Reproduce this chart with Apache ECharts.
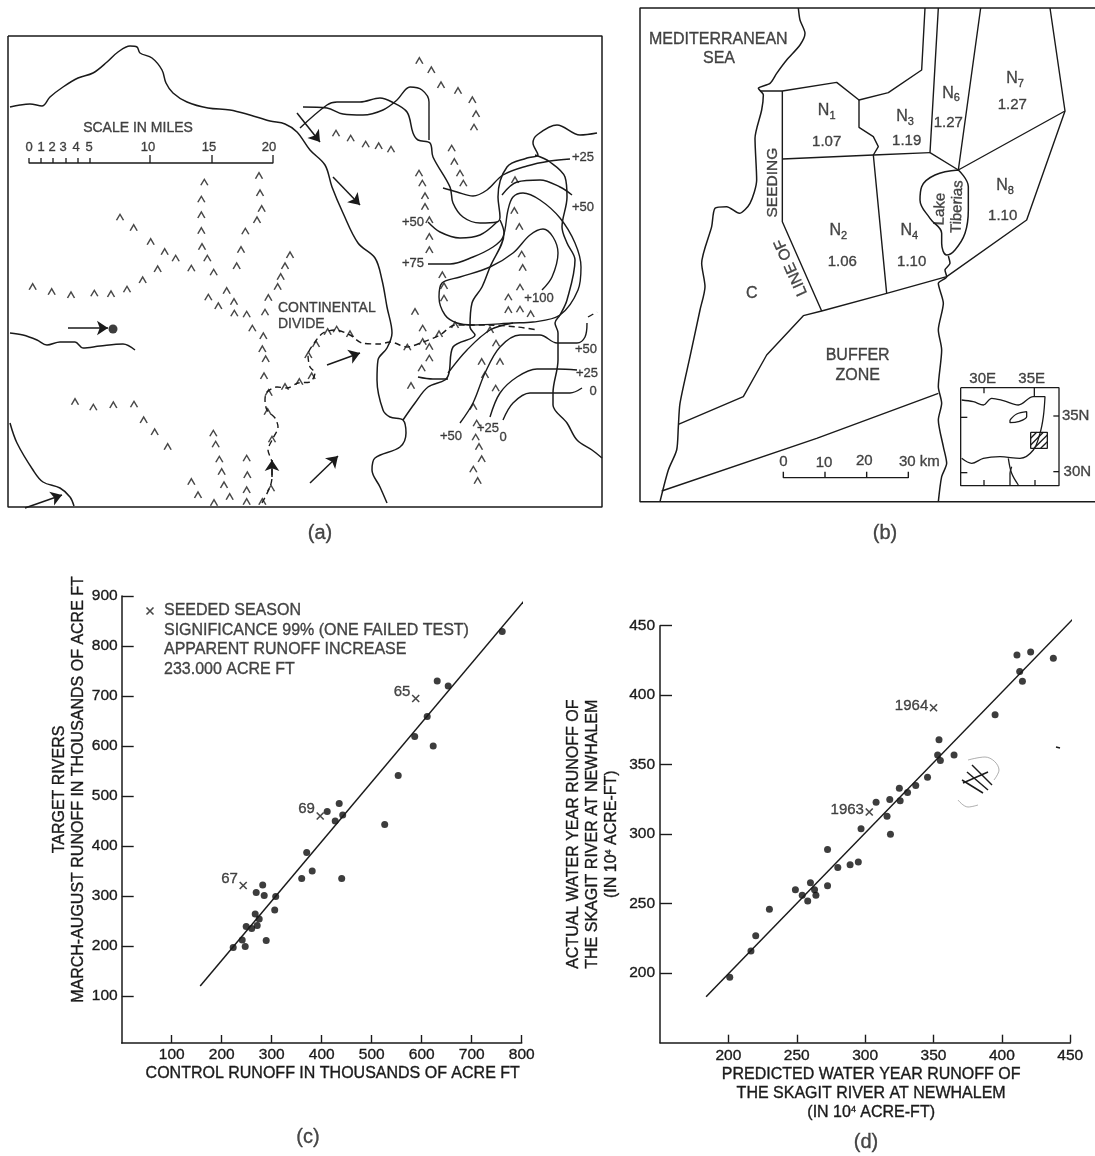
<!DOCTYPE html>
<html><head><meta charset="utf-8">
<style>html,body{margin:0;padding:0;background:#fff}#c{width:1095px;height:1156px}</style>
<script src="https://cdn.jsdelivr.net/npm/echarts@6/dist/echarts.min.js"></script>
</head><body><div id="c"></div>
<script>
// ---------- scatter (c) ----------
const controlRunoff = [223,241,247,249,260,271,275,267,289,269,285,282,308,306,360,370,381,440,427,442,435,411,526,553,586,611,623,631,653,761];
const targetRunoff  = [197,212,199,239,235,241,254,264,211,307,301,322,299,272,335,387,350,335,450,462,485,469,443,541,619,659,600,730,720,829];
const seededC = [[588,695,'65'],[397,460,'69'],[243,321,'67']];
const fitC = [[157,120],[813,900]];
const ticksC = [100,200,300,400,500,600,700,800,900];
// ---------- scatter (d) ----------
const predictedRunoff = [201,216.5,220,230,249,254,258,260,263,264,272.5,272.5,280,289,295,297,308,316,318,318.5,325,325.6,331,337,345.6,353,354,355,365,395,411,413,415,421,437.6,438];
const actualRunoff    = [197,216,227,246,260,256,252,265,260,256,263,289,276,278,280,304,323,313,325,300,333,324,330,335,341,357,368,353,357,386,429,417,410,431,426.5,454];
const seededD = [[350,391,'1964'],[303,316,'1963']];
const fitD = [[183.7,183],[460,463]];
// ---------- map (a): sheet units ----------
const frameA = [[8,36],[602,36],[602,507],[8,507],[8,36]];
const riversA = [
 [[10,107],[20,105],[30,104],[42,106],[50,97],[63,87],[78,78],[93,73],[107,62],[118,52],[130,46],[137,47],[140,53],[152,58],[162,70],[166,83],[173,93],[187,102],[208,108],[230,110],[250,115],[270,121],[285,124],[297,132],[310,150],[325,165],[332,187],[343,213],[358,243],[375,258],[382,280],[387,307],[392,333],[387,348],[378,360],[377,380],[383,410],[390,417],[403,420],[406,433],[400,447],[375,458],[372,470],[380,487],[387,503]],
 [[300,128],[327,105],[337,102],[360,102],[380,98],[392,102],[407,112],[413,133],[418,140],[430,143],[433,157],[450,187],[453,203],[463,217],[480,223],[497,222],[500,217],[498,197],[507,167],[527,158],[538,155],[533,143],[537,135],[557,125],[580,135],[597,133]],
 [[535,155],[550,162],[565,177],[567,197],[562,227],[567,243],[575,260],[567,300],[560,315],[555,323],[558,333],[558,360],[553,393],[553,405],[567,423],[577,440],[592,450],[602,458]],
 [[500,220],[504,233],[490,267],[482,287],[472,303],[470,327],[475,335],[453,347],[449,373],[445,380],[428,387],[415,403],[403,420]],
 [[418,377],[433,379],[448,379]],
 [[10,333],[23,335],[37,340],[47,345],[60,342],[75,342],[83,348],[100,346],[123,344],[135,350]],
 [[10,423],[17,443],[33,470],[43,482],[60,488],[70,497],[74,506]]
];
const contoursA = [
 [[303,107],[327,108],[343,114],[363,115],[383,110],[397,100],[410,87],[422,90],[429,102],[429,140]],
 [[443,188],[457,192],[473,196],[487,190],[503,175],[527,166],[550,161],[570,159]],
 [[502,195],[517,182],[540,180],[560,187],[572,195]],
 [[428,222],[440,232],[460,238],[480,235],[497,222]],
 [[428,264],[450,264],[473,257],[493,247],[503,237],[508,210],[513,197],[523,193],[540,200],[560,218],[575,243],[581,267],[578,290],[560,315],[533,322],[513,323],[473,325],[457,323],[445,315],[439,297],[442,283],[460,277],[490,267],[513,253],[530,235],[543,229],[553,237],[558,253],[552,277],[542,290]],
 [[448,373],[467,350],[490,330],[513,323]],
 [[460,423],[473,403],[485,373],[500,347],[520,335],[540,335],[557,343],[577,343],[585,337],[587,323]],
 [[490,417],[500,393],[517,377],[537,369],[557,369],[577,370]],
 [[503,420],[513,403],[530,393],[553,393],[570,393],[582,388]]
];
const divideA = [
 [[262,503],[270,487],[272,477],[272,463],[268,450],[272,440],[278,427],[275,418],[267,410],[265,400],[267,392],[277,387],[287,388],[298,383],[310,382],[315,373],[310,367],[308,355],[315,342],[323,333],[335,330],[350,335],[362,343],[380,344],[390,342],[407,347],[423,342],[440,335],[455,325],[487,325],[517,327],[538,330]],
 [[588,317],[597,312]]
];
const arrowsA = [[[297,113],[320,142]],[[333,177],[360,205]],[[68,328],[108,328]],[[25,508],[62,495]],[[327,365],[360,353]],[[310,483],[338,456]],[[272,477],[272,460]]];
const gaugeA = [[113,329]];
const scaleBarA = [[29,158],[29,163],[41,163],[41,158],[41,163],[53,163],[53,158],[53,163],[66,163],[66,158],[66,163],[78,163],[78,158],[78,163],[90,163],[90,158],[90,163],[150,163],[150,155],[150,163],[212,163],[212,155],[212,163],[273,163],[273,155]];
const scaleLabelsA = [[29,147,'0'],[41,147,'1'],[52,147,'2'],[63,147,'3'],[76,147,'4'],[89,147,'5'],[148,147,'10'],[209,147,'15'],[269,147,'20']];
const textA = [[138,128,'SCALE IN MILES']];
const textDivide = [[278,308,'CONTINENTAL'],[278,324,'DIVIDE']];
const contourLabelsA = [[583,157,'+25'],[583,207,'+50'],[413,222,'+50'],[413,263,'+75'],[539,298,'+100'],[586,349,'+50'],[587,373,'+25'],[593,391,'0'],[488,428,'+25'],[503,437,'0'],[451,436,'+50']];
// mountain carets, west and east halves of map (a), in crop units
const caretsWest = [[98,800],[155,815],[213,825],[283,820],[333,822],[381,808],[428,780],[473,747],[527,715],[494,695],[452,665],[401,623],[360,592],[574,745],[622,715],[641,757],[606,680],[604,632],[604,585],[604,538],[613,487],[710,738],[723,689],[736,634],[771,600],[785,566],[780,519],[777,467],[870,705],[855,738],[842,770],[833,800],[805,833],[795,877],[625,832],[655,858],[680,812],[702,845],[703,880],[740,883],[757,925],[790,948],[787,987],[797,1017],[792,1068],[225,1145],[280,1162],[340,1155],[402,1153],[431,1200],[464,1236],[503,1280],[640,1240],[647,1273],[658,1318],[665,1355],[672,1395],[689,1430],[642,1448],[574,1385],[594,1425],[740,1315],[742,1365],[740,1410],[740,1445],[787,1445],[813,1405],[816,1258],[803,1175],[806,1118],[855,1100],[898,1085],[935,1068]];
const caretsEast = [[358,62],[394,90],[423,135],[474,152],[517,180],[528,222],[522,262],[455,325],[463,365],[480,400],[490,430],[108,280],[152,295],[197,313],[236,318],[273,328],[357,400],[367,430],[375,468],[375,500],[388,540],[388,590],[388,630],[645,420],[643,512],[658,560],[665,643],[668,683],[660,742],[625,772],[625,810],[660,808],[692,822],[427,705],[432,738],[432,775],[345,815],[368,865],[368,905],[388,920],[388,955],[365,985],[333,1037],[322,922],[417,882],[465,855],[570,870],[588,910],[545,965],[600,965],[555,1005],[587,1045],[520,1100],[530,1150],[527,1192],[537,1220],[545,1257],[520,1288],[533,1322],[150,882],[110,868],[83,875],[48,912],[25,945]];
// ---------- map (b), in crop units ----------
const frameB = [[1395,-6],[30,-6],[30,1475],[1395,1475]];
const coastB = [[505,-6],[510,30],[525,70],[510,105],[470,150],[440,190],[420,220],[385,235],[400,255],[395,300],[375,385],[380,510],[360,580],[328,610],[290,590],[255,595],[245,650],[215,760],[225,830],[210,900],[180,1040],[150,1180],[145,1250],[140,1320],[115,1380],[90,1475]];
const riverB = [[955,738],[960,760],[945,780],[950,800],[925,820],[940,880],[925,960],[935,1020],[925,1130],[935,1180],[925,1230],[940,1310],[950,1360],[935,1400],[925,1475]];
const lakeB = [[985,480],[1015,530],[1015,600],[1005,670],[975,720],[950,735],[935,700],[935,670],[900,625],[870,570],[875,530],[915,495],[985,480]];
const zonesB = [
 [[390,243],[457,243],[620,217],[687,270],[775,248],[875,180],[885,-6]],
 [[457,243],[457,635],[575,903]],
 [[457,447],[730,435],[900,428]],
 [[687,270],[687,352],[730,380],[745,410],[730,435],[770,850]],
 [[925,-6],[900,428],[985,480]],
 [[1052,-6],[985,480],[1305,303]],
 [[1260,-6],[1305,303],[1190,630],[950,800],[770,850],[575,903],[520,917],[410,1035],[340,1160],[145,1243]],
 [[95,1443],[560,1285],[925,1150]],
 [[460,1385],[460,1403],[585,1403],[585,1385],[585,1403],[710,1403],[710,1385],[710,1403],[835,1403],[835,1385]]
];
const insetB = [
 [[992,1133],[1287,1133],[1287,1427],[992,1427],[992,1133]],
 [[1062,1133],[1062,1150]],[[1213,1133],[1213,1160]],[[1062,1427],[1062,1410]],[[1215,1427],[1215,1410]],
 [[992,1222],[1012,1222]],[[992,1388],[1012,1388]],[[1270,1218],[1287,1218]],[[1270,1385],[1287,1385]],
 [[1202,1267],[1252,1267],[1252,1315],[1202,1315],[1202,1267]],
 [[1202,1285],[1220,1267]],[[1202,1305],[1240,1267]],[[1212,1315],[1252,1275]],[[1232,1315],[1252,1295]]
];
const insetCurvesB = [
 [[995,1170],[1030,1175],[1060,1185],[1085,1165],[1120,1172],[1165,1185],[1210,1160],[1245,1160],[1240,1220],[1230,1270],[1210,1320],[1170,1345],[1110,1340],[1060,1345],[1025,1360],[995,1345]],
 [[1135,1345],[1145,1390],[1165,1425]],[[1140,1425],[1140,1390],[1145,1370]],
 [[1140,1230],[1160,1212],[1190,1205],[1190,1220],[1165,1235],[1140,1238],[1140,1230]]
];
const namesB = [[265,88,'MEDITERRANEAN'],[267,145,'SEA'],[683,1037,'BUFFER'],[683,1097,'ZONE'],[365,850,'C']];
const zoneNamesB = [[590,302,'N{s|1}'],[825,320,'N{s|3}'],[963,250,'N{s|6}'],[1155,207,'N{s|7}'],[625,662,'N{s|2}'],[838,662,'N{s|4}'],[1125,527,'N{s|8}']];
const zoneRatiosB = [[590,397,'1.07'],[830,392,'1.19'],[955,340,'1.27'],[1147,285,'1.27'],[637,755,'1.06'],[845,755,'1.10'],[1118,618,'1.10']];
const seedingB = [[427,518,'SEEDING']];
const lineOfB = [[483,772,'LINE OF']];
const lakeNameB = [[930,597,'Lake'],[982,590,'Tiberias']];
const scaleLabelsB = [[460,1357,'0'],[582,1360,'10'],[703,1353,'20'],[868,1357,'30 km'],[1058,1108,'30E'],[1205,1108,'35E'],[1337,1218,'35N'],[1342,1385,'30N']];
// ---------- marks on the photographed page ----------
const captions = [[320,533,'(a)'],[885,533,'(b)'],[308,1137,'(c)'],[866,1142,'(d)']];
const legendText = [[164,611,'SEEDED SEASON'],[164,631,'SIGNIFICANCE 99% (ONE FAILED TEST)'],[164,650,'APPARENT RUNOFF INCREASE'],[164,670,'233.000 ACRE FT']];
const legendMark = [[150,611]];
const penMarks = [[[972,765],[992,785]],[[967,772],[988,790]],[[962,780],[983,793]],[[963,783],[988,772]],[[1056,747],[1060,748]]];
const penCircle = [[[968,760],[985,757],[999,770],[994,780]],[[958,800],[968,807],[978,805]]];

const FONT = '"Liberation Sans", Arial, sans-serif', INK = '#1a1a1a';
const BOLD = {textBorderColor:INK, textBorderWidth:0.35};
const SHEET = 0, WEST = 1, EAST = 2, PANELB = 3, CHARTC = 4, CHARTD = 5;
const CARET = 'path://M0 10L5 0L10 10', CROSS = 'path://M0 0L10 10M10 0L0 10';

const hidden = (g, min, max, inv) => ({type:'value', gridIndex:g, min, max, inverse:!!inv, show:false, splitLine:{show:false}});
const xAxes = [hidden(SHEET,0,1095), hidden(WEST,0,960), hidden(EAST,0,960), hidden(PANELB,0,1395)];
const yAxes = [hidden(SHEET,0,1156,true), hidden(WEST,0,1500,true), hidden(EAST,0,1440,true), hidden(PANELB,-30,1500,true)];

const axisBase = {type:'value', splitLine:{show:false},
  axisLine:{show:true, onZero:false, lineStyle:{color:INK, width:1.5}},
  axisLabel:{color:INK, fontFamily:FONT, fontSize:15.5, showMinLabel:false, ...BOLD},
  nameLocation:'middle', nameTextStyle:{color:INK, fontFamily:FONT, fontSize:16, lineHeight:19, ...BOLD}};
const tick = len => ({show:true, inside:true, length:len, lineStyle:{color:INK, width:1.4}});
xAxes.push({...axisBase, gridIndex:CHARTC, min:0, max:800, interval:100, axisTick:tick(8),
  axisLabel:{...axisBase.axisLabel, margin:4},
  name:'CONTROL RUNOFF IN THOUSANDS OF ACRE FT', nameGap:21,
  nameTextStyle:{...axisBase.nameTextStyle, padding:[0,0,0,22]}});
yAxes.push({...axisBase, gridIndex:CHARTC, min:6, max:900,
  axisTick:{...tick(12), customValues:ticksC},
  axisLabel:{...axisBase.axisLabel, margin:4, showMinLabel:true, customValues:ticksC},
  name:'TARGET RIVERS\nMARCH-AUGUST RUNOFF IN THOUSANDS OF ACRE FT', nameGap:25,
  nameTextStyle:{...axisBase.nameTextStyle, padding:[0,0,0,60]}});
xAxes.push({...axisBase, gridIndex:CHARTD, min:150, max:450, interval:50, axisTick:tick(8),
  axisLabel:{...axisBase.axisLabel, margin:5},
  name:'PREDICTED WATER YEAR RUNOFF OF\nTHE SKAGIT RIVER AT NEWHALEM\n(IN 10{s|4} ACRE-FT)', nameGap:22,
  nameTextStyle:{...axisBase.nameTextStyle, padding:[0,0,0,12], rich:{s:{fontFamily:FONT,fontSize:9,color:INK,padding:[0,0,6,0]}}}});
yAxes.push({...axisBase, gridIndex:CHARTD, min:150, max:450, interval:50, axisTick:tick(12),
  axisLabel:{...axisBase.axisLabel, margin:5},
  name:'ACTUAL WATER YEAR RUNOFF OF\nTHE SKAGIT RIVER AT NEWHALEM\n(IN 10{s|4} ACRE-FT)', nameGap:39,
  nameTextStyle:{...axisBase.nameTextStyle, rich:{s:{fontFamily:FONT,fontSize:9,color:INK,padding:[0,0,6,0]}}}});

const line = (pts, g, width, extra={}) => ({type:'line', xAxisIndex:g, yAxisIndex:g, data:pts, symbol:'none', silent:true, clip:false,
  lineStyle:{color:INK, width}, ...extra});
const text = (rows, g, size, extra={}) => ({type:'scatter', xAxisIndex:g, yAxisIndex:g, data:rows, symbolSize:1, silent:true, clip:false,
  itemStyle:{color:'transparent'},
  label:{show:true, position:'inside', formatter:p=>p.value[2], color:INK, fontFamily:FONT, fontSize:size, rotate:extra.rotate||0, align:extra.align||'center', verticalAlign:'middle', ...BOLD,
    rich:{s:{fontFamily:FONT, fontSize:11, color:INK, padding:[10,0,0,0], ...BOLD}}}});
const carets = (pts, g) => ({type:'scatter', xAxisIndex:g, yAxisIndex:g, data:pts, symbol:CARET, symbolSize:[7,6], silent:true, clip:false,
  itemStyle:{color:'transparent', borderColor:INK, borderWidth:1.4}});
const crosses = (rows, g, size, off) => ({type:'scatter', xAxisIndex:g, yAxisIndex:g, data:rows, symbol:CROSS, symbolSize:size, silent:true, clip:false,
  itemStyle:{color:'transparent', borderColor:INK, borderWidth:1.6},
  label:{show:rows[0].length>2, position:'left', distance:1, offset:[0,off], formatter:p=>p.value[2], color:INK, fontFamily:FONT, fontSize:15, ...BOLD}});
const dots = (xs, ys, g) => ({type:'scatter', xAxisIndex:g, yAxisIndex:g, data:xs.map((x,i)=>[x,ys[i]]), symbol:'circle', symbolSize:7, silent:true,
  itemStyle:{color:'#0d0d0d'}});
const curve = {smooth:0.35};

const series = [
  line(frameA, SHEET, 1.5),
  ...riversA.map(p=>line(p, SHEET, 1.5, curve)),
  ...contoursA.map(p=>line(p, SHEET, 1.4, curve)),
  ...divideA.map(p=>line(p, SHEET, 1.4, {smooth:0.3, lineStyle:{color:INK,width:1.4,type:[6,4]}})),
  line(scaleBarA, SHEET, 1.3),
  {type:'lines', coordinateSystem:'cartesian2d', xAxisIndex:SHEET, yAxisIndex:SHEET, silent:true, clip:false,
   symbol:['none','arrow'], symbolSize:11, lineStyle:{color:INK, width:1.5, opacity:1, curveness:0},
   data:arrowsA.map(c=>({coords:c}))},
  {type:'scatter', xAxisIndex:SHEET, yAxisIndex:SHEET, data:gaugeA, symbolSize:9, silent:true, itemStyle:{color:'#0d0d0d'}},
  carets(caretsWest, WEST), carets(caretsEast, EAST),
  text(textA, SHEET, 14), text(textDivide, SHEET, 14, {align:'left'}),
  text(scaleLabelsA, SHEET, 13), text(contourLabelsA, SHEET, 13),

  line(frameB, PANELB, 1.5),
  line(coastB, PANELB, 1.5, {smooth:0.25}), line(riverB, PANELB, 1.5, {smooth:0.25}), line(lakeB, PANELB, 1.5, {smooth:0.4}),
  ...zonesB.map(p=>line(p, PANELB, 1.4)),
  ...insetB.map(p=>line(p, PANELB, 1.3)),
  ...insetCurvesB.map(p=>line(p, PANELB, 1.3, {smooth:0.35})),
  text(namesB, PANELB, 16), text(zoneNamesB, PANELB, 16), text(zoneRatiosB, PANELB, 15),
  text(seedingB, PANELB, 15.5, {rotate:90}), text(lineOfB, PANELB, 15.5, {rotate:114}),
  text(lakeNameB, PANELB, 15, {rotate:88}), text(scaleLabelsB, PANELB, 15),

  line(fitC, CHARTC, 1.5),
  dots(controlRunoff, targetRunoff, CHARTC),
  crosses(seededC, CHARTC, 7, -7),
  line(fitD, CHARTD, 1.5),
  dots(predictedRunoff, actualRunoff, CHARTD),
  crosses(seededD, CHARTD, 7, -2),

  text(captions, SHEET, 20),
  text(legendText, SHEET, 16, {align:'left'}),
  crosses(legendMark, SHEET, 7, 0),
  ...penMarks.map(p=>line(p, SHEET, 1.5)),
  ...penCircle.map(p=>line(p, SHEET, 0.6, {smooth:0.4, lineStyle:{color:'#777',width:0.6}}))
];

const grid = [
  {left:0, top:0, width:1095, height:1156},
  {left:0, top:20, width:320, height:500},
  {left:300, top:40, width:320, height:480},
  {left:630, top:0, width:465, height:510},
  {left:121.7, top:596, width:400, height:447},
  {left:660, top:625.7, width:410.3, height:417}
];

const chart = echarts.init(document.getElementById('c'), null, {renderer:'canvas'});
chart.setOption({animation:false, backgroundColor:'#fff', tooltip:{show:false}, legend:{show:false},
  grid, xAxis:xAxes, yAxis:yAxes, series});
</script></body></html>
